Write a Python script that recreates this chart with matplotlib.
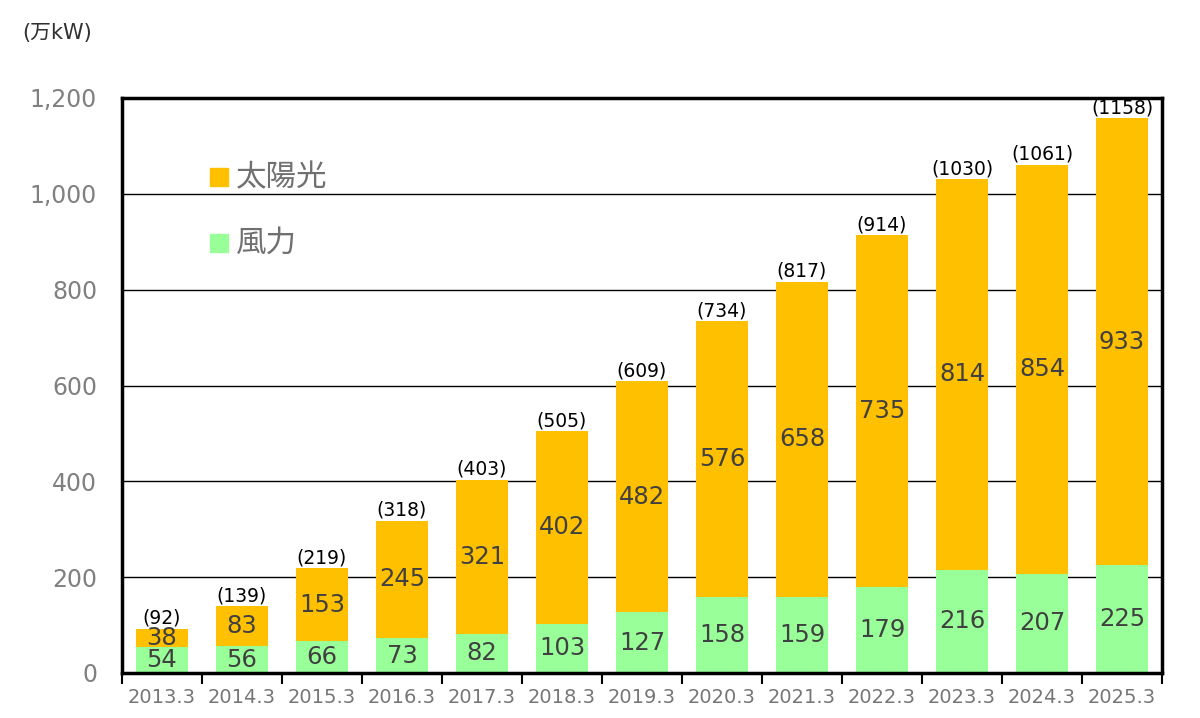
import numpy as np
import matplotlib.pyplot as plt

plt.rcParams['font.family'] = ['DejaVu Sans', 'Noto Sans CJK JP']

years = ['2013.3', '2014.3', '2015.3', '2016.3', '2017.3', '2018.3', '2019.3',
         '2020.3', '2021.3', '2022.3', '2023.3', '2024.3', '2025.3']
wind = [54, 56, 66, 73, 82, 103, 127, 158, 159, 179, 216, 207, 225]
solar = [38, 83, 153, 245, 321, 402, 482, 576, 658, 735, 814, 854, 933]
totals = [92, 139, 219, 318, 403, 505, 609, 734, 817, 914, 1030, 1061, 1158]

fig = plt.figure(figsize=(12, 7.18), dpi=100)
ax = fig.add_axes([122/1200, 1-673/718, 1040/1200, 575/718])

x = np.arange(len(years))
w = 0.66
green = '#99FF99'
orange = '#FFC000'
ax.bar(x, wind, w, color=green, zorder=2)
ax.bar(x, solar, w, bottom=wind, color=orange, zorder=2)

for i in range(len(years)):
    ax.text(x[i], wind[i]/2, str(wind[i]), ha='center', va='center',
            fontsize=17.5, color='#404040', zorder=3)
    ax.text(x[i], wind[i] + solar[i]/2, str(solar[i]), ha='center', va='center',
            fontsize=17.5, color='#404040', zorder=3)
    ax.text(x[i], totals[i] + 2, '(%d)' % totals[i], ha='center', va='bottom',
            fontsize=13.5, color='black', zorder=3)

ax.set_xlim(-0.5, len(years) - 0.5)
ax.set_ylim(0, 1200)
ax.set_yticks(range(0, 1201, 200))
ax.set_yticklabels(['{:,}'.format(v) for v in range(0, 1201, 200)])
ax.yaxis.grid(True, color='black', linewidth=1, zorder=1)
ax.set_axisbelow(True)

ax.set_xticks(x)
ax.set_xticklabels(years)
ax.set_xticks(np.arange(-0.5, len(years)), minor=True)
ax.tick_params(axis='x', which='major', length=0, labelsize=14,
               labelcolor='#767676', pad=11)
ax.tick_params(axis='x', which='minor', length=8, width=1.5, direction='out',
               color='black')
ax.tick_params(axis='y', length=0, labelsize=17, labelcolor='#808080', pad=18)

for s in ax.spines.values():
    s.set_linewidth(2.5)
    s.set_color('black')

# legend
fig.patches.append(plt.Rectangle((210/1200, 1-186/718), 18/1200, 18/718,
                                 transform=fig.transFigure, color=orange))
fig.patches.append(plt.Rectangle((210/1200, 1-252/718), 18/1200, 18/718,
                                 transform=fig.transFigure, color=green))
fig.text(236/1200, 1-178/718, '太陽光', fontsize=22, color='#707070',
         va='center', family=['Noto Sans CJK JP'])
fig.text(236/1200, 1-243/718, '風力', fontsize=22, color='#707070',
         va='center', family=['Noto Sans CJK JP'])

fig.text(22/1200, 1-33/718, '(万kW)', fontsize=15, color='#303030', va='center')

fig.savefig('out.png', dpi=100)
